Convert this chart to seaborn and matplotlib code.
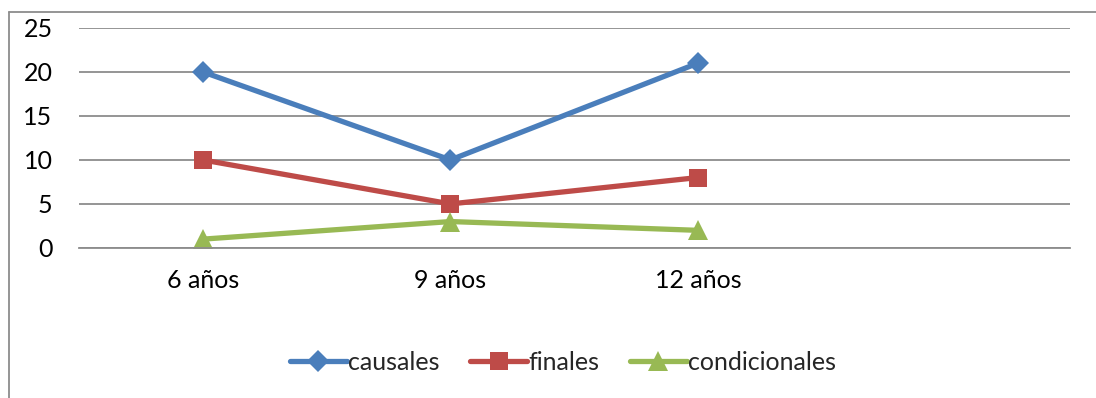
import pandas as pd
import matplotlib.pyplot as plt
import seaborn as sns
from matplotlib.lines import Line2D

categorias = ["6 años", "9 años", "12 años"]
causales = [20, 10, 21]
finales = [10, 5, 8]
condicionales = [1, 3, 2]

series = ["causales", "finales", "condicionales"]
colores = ["#4A7EBB", "#BE4B48", "#98B954"]
marcadores = ["D", "s", "^"]
tam = [11, 13, 15]

df = pd.DataFrame({
    "edad": categorias * 3,
    "valor": causales + finales + condicionales,
    "serie": [s for s in series for _ in categorias],
})
df["pos"] = df["edad"].map({c: i for i, c in enumerate(categorias)})

sns.set_style("white")
plt.rcParams["font.family"] = ["Lato", "DejaVu Sans"]

fig = plt.figure(figsize=(10.96, 3.98), dpi=100)
ax = fig.add_axes([0.072, 0.377, 0.904, 0.553])

for s, c, m, ms in zip(series, colores, marcadores, tam):
    sub = df[df["serie"] == s]
    sns.lineplot(data=sub, x="pos", y="valor", ax=ax, color=c, linewidth=3.8,
                 marker=m, markersize=ms, markeredgewidth=0, legend=False)

ax.set_xlim(-0.5, 3.5)
ax.set_ylim(0, 25)
ax.set_yticks(range(0, 26, 5))
ax.set_xticks(range(len(categorias)))
ax.set_xticklabels(categorias)
ax.set_xlabel("")
ax.set_ylabel("")
ax.grid(axis="y", color="#8c8c8c", linewidth=1.3)
ax.set_axisbelow(True)
for sp in ["top", "right", "left"]:
    ax.spines[sp].set_visible(False)
ax.spines["bottom"].set_color("#8c8c8c")
ax.spines["bottom"].set_linewidth(1.3)
ax.tick_params(axis="both", length=0, labelsize=18, colors="black")
ax.tick_params(axis="y", pad=19)
ax.tick_params(axis="x", pad=15)

handles = [Line2D([0], [0], color=c, linewidth=3.8, marker=m, markersize=ms,
                  markeredgewidth=0) for c, m, ms in zip(colores, marcadores, tam)]
fig.legend(handles, series, loc="center",
           bbox_to_anchor=(0.5 + 15 / 1096, 1 - 362 / 398),
           ncol=3, frameon=False, fontsize=18, handlelength=2.3,
           handletextpad=0.05, columnspacing=1.2)

# marco del gráfico
fig.add_artist(Line2D([9 / 1096, 9 / 1096], [0, 1 - 12 / 398],
                      transform=fig.transFigure, color="#8c8c8c", linewidth=1.3))
fig.add_artist(Line2D([9 / 1096, 1], [1 - 12 / 398, 1 - 12 / 398],
                      transform=fig.transFigure, color="#8c8c8c", linewidth=1.3))

fig.savefig("out.png", dpi=100)
